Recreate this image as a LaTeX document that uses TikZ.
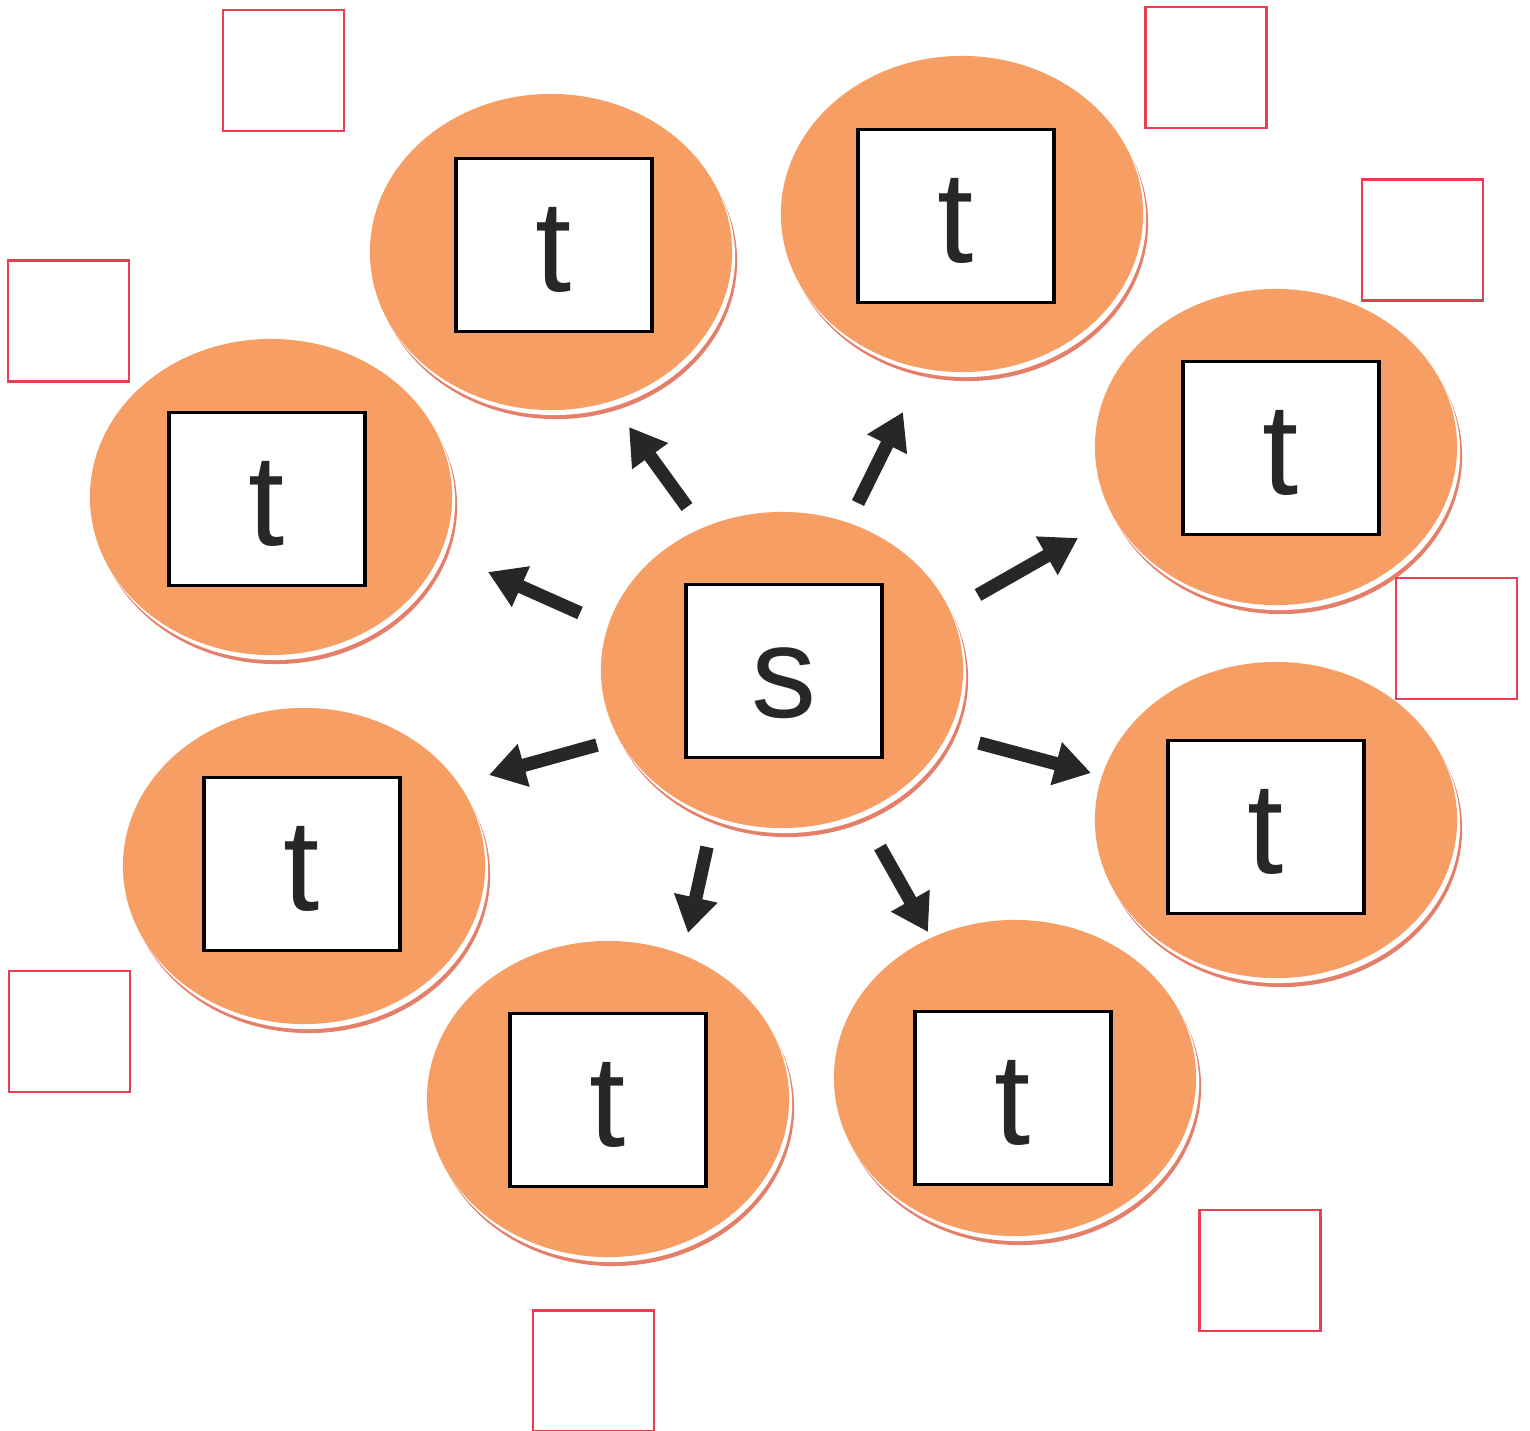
\documentclass[tikz,border=0pt]{standalone}
\usepackage{fontspec}
\setmainfont{Liberation Sans}
\usetikzlibrary{arrows.meta,shapes.geometric,shadows}
\definecolor{discorange}{RGB}{247,158,100}
\definecolor{discrim}{RGB}{228,128,106}
\definecolor{boxred}{RGB}{232,62,84}
\definecolor{inkgray}{RGB}{38,40,40}
\tikzset{
  disc/.style={ellipse, fill=discorange, minimum width=3.62cm, minimum height=3.16cm, inner sep=0pt,
    general shadow={shadow xshift=0.05cm, shadow yshift=-0.09cm, fill=discrim},
    general shadow={shadow xshift=0.03cm, shadow yshift=-0.05cm, fill=white}},
  card/.style={draw=black, line width=1pt, fill=white, minimum width=1.96cm, minimum height=1.73cm,
    inner sep=0pt, text=inkgray, font=\fontsize{37}{40}\selectfont, text height=0.93cm, text depth=0pt},
  answerbox/.style={draw=boxred, line width=0.8pt, minimum size=1.21cm, inner sep=0pt},
  pointer/.style={draw=inkgray, line width=3.8pt, -{Triangle[width=0.42cm,length=0.36cm]}}
}
\begin{document}
\begin{tikzpicture}[x=0.01cm, y=-0.01cm]
  \useasboundingbox (0,0) rectangle (1530,1430);
  % Centre disc
  \node[disc] (s) at (782,670) {};
  \node[card] (sc) at (784,671) {s};
  % Outer discs
  \foreach \dx/\dy/\cx/\cy [count=\i] in {551/252/554/245, 962/214/956/216, 1276/447/1281/448,
      1276/820/1266/827, 1015/1078/1013/1098, 608/1099/608/1100, 304/866/302/864, 271/497/267/499} {
    \node[disc] (d\i) at (\dx,\dy) {};
    \node[card] (c\i) at (\cx,\cy) {t};
  }
  % Arrows
  \foreach \tx/\ty/\hx/\hy [count=\i] in {687/507/629/427, 858/503/903/412, 978/595/1078/538,
      979/743/1091/773, 880/847/928/932, 707/847/688/933, 597/745/489/775, 580/613/488/572} {
    \coordinate (tail\i) at (\tx,\ty);
    \coordinate (head\i) at (\hx,\hy);
    \draw[pointer] (tail\i) -- (head\i);
  }
  % Answer boxes
  \foreach \bx/\by [count=\i] in {283.5/70.5, 1206/67.5, 1422.5/240, 68.5/321, 1456.5/638.5,
      69.5/1031.5, 1260/1270.5, 593.5/1371} {
    \node[answerbox] (b\i) at (\bx,\by) {};
  }
\end{tikzpicture}
\end{document}
